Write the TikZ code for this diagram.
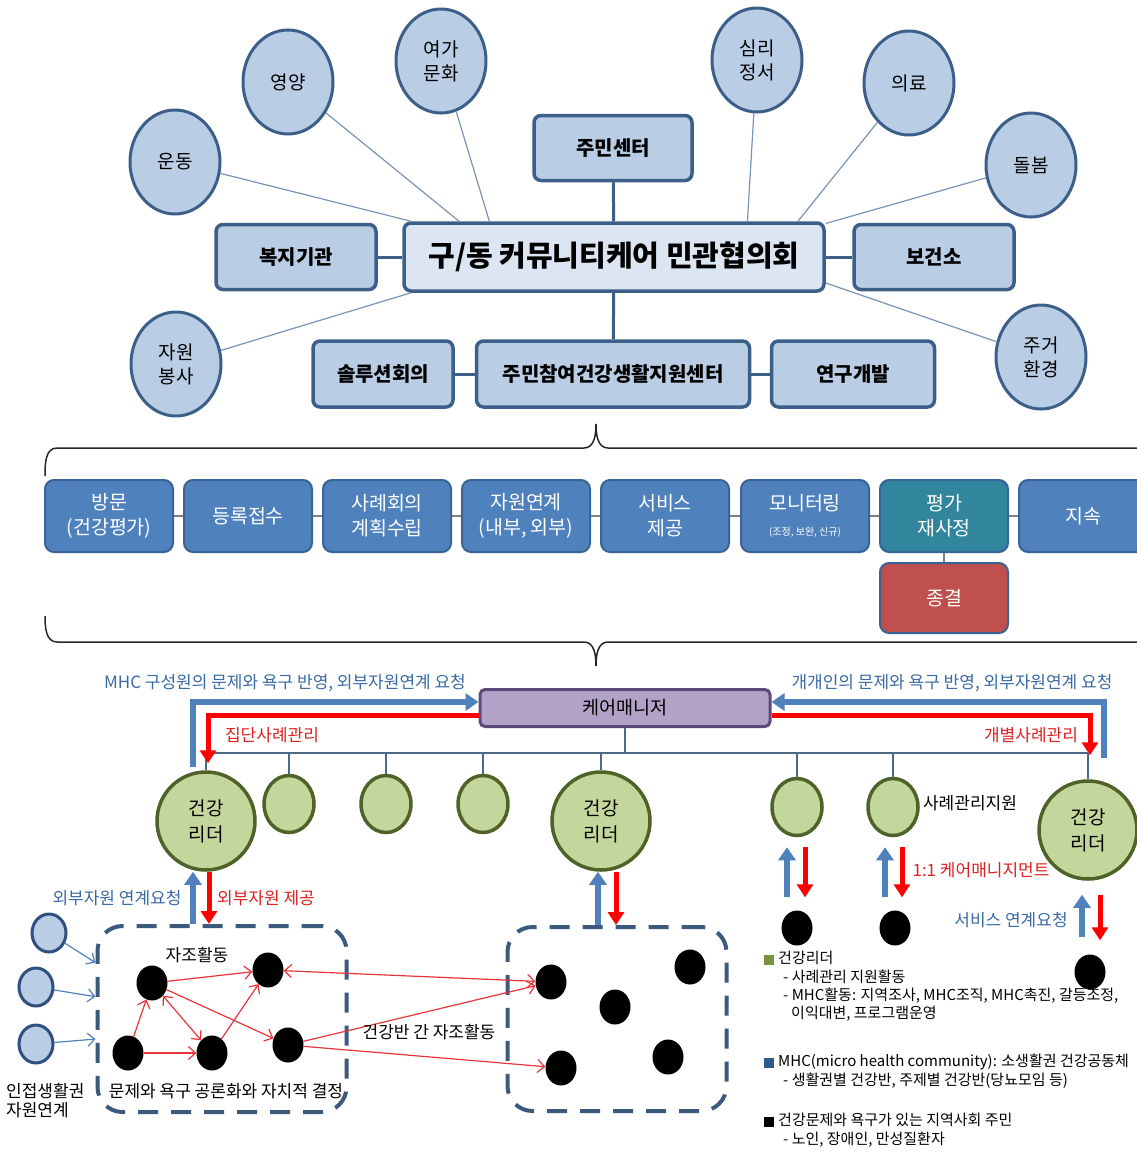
\documentclass[tikz,border=0pt]{standalone}
\usepackage{fontspec}
\setmainfont{Noto Sans CJK KR}
\usetikzlibrary{arrows.meta,shapes.geometric}

\definecolor{topfill}{HTML}{B9CDE5}
\definecolor{mainfill}{HTML}{DCE6F2}
\definecolor{topline}{HTML}{3C5F8A}
\definecolor{spokecol}{HTML}{7A93B5}
\definecolor{procblue}{HTML}{4F81BD}
\definecolor{procline}{HTML}{3A6496}
\definecolor{procteal}{HTML}{31859C}
\definecolor{procred}{HTML}{C0504D}
\definecolor{purplefill}{HTML}{B3A2C7}
\definecolor{purpleline}{HTML}{5F497A}
\definecolor{greenfill}{HTML}{C3D69B}
\definecolor{greenline}{HTML}{4F6228}
\definecolor{arrblue}{HTML}{4F81BD}
\definecolor{arrred}{HTML}{FF0000}
\definecolor{selfred}{HTML}{E8343A}
\definecolor{labblue}{HTML}{3A6AA5}
\definecolor{labred}{HTML}{E02020}
\definecolor{dashcol}{HTML}{3C5A7D}
\definecolor{nbrline}{HTML}{2F4F7F}
\definecolor{busline}{HTML}{4A6A8A}
\definecolor{legGreen}{HTML}{77933C}
\definecolor{legBlue}{HTML}{2E5A8C}

\begin{document}
\begin{tikzpicture}[x=1pt, y=-1pt, font=\fontsize{17}{20}\selectfont,
	>={Straight Barb[length=7pt,width=13pt]},
	topcirc/.style={ellipse, draw=topline, fill=topfill, line width=3pt, minimum width=90pt, minimum height=104pt, inner sep=0pt, align=center, font=\fontsize{19}{24}\selectfont},
	topbox/.style={rectangle, rounded corners=7pt, draw=topline, fill=topfill, line width=3.5pt, font=\bfseries\fontsize{20}{24}\selectfont},
	spoke/.style={draw=spokecol, line width=1.2pt},
	boxlink/.style={draw=topline, line width=3pt},
	stepbox/.style={rectangle, rounded corners=9pt, draw=procline, fill=procblue, line width=2pt, minimum width=128pt, minimum height=72pt, text=white, align=center, font=\fontsize{19.5}{25}\selectfont},
	stepwire/.style={draw=gray, line width=2pt},
	bracemark/.style={draw=black!85, line width=1.5pt},
	manager/.style={rectangle, rounded corners=5pt, draw=purpleline, fill=purplefill, line width=3pt, minimum width=290pt, minimum height=37pt, font=\fontsize{18.5}{22}\selectfont},
	leader/.style={circle, draw=greenline, fill=greenfill, line width=3.5pt, minimum size=98pt, inner sep=0pt, align=center, font=\fontsize{19}{26}\selectfont},
	member/.style={ellipse, draw=greenline, fill=greenfill, line width=3.5pt, minimum width=50pt, minimum height=57pt},
	person/.style={ellipse, fill=black, minimum width=31pt, minimum height=35pt, inner sep=0pt},
	nbr/.style={ellipse, draw=nbrline, fill=topfill, line width=3pt, minimum width=34pt, minimum height=38pt},
	mhcbox/.style={rectangle, rounded corners=25pt, draw=dashcol, line width=4pt, dash pattern=on 20pt off 13pt},
	bus/.style={draw=busline, line width=1.3pt},
	uparr/.style={draw=arrblue, line width=6pt, -{Triangle[width=17pt,length=13pt]}},
	downarr/.style={draw=arrred, line width=5pt, -{Triangle[width=16pt,length=13pt]}},
	selfhelp/.style={draw=selfred, line width=1.2pt},
	nbrarr/.style={draw=arrblue, line width=1.2pt, ->},
	bluetext/.style={text=labblue},
	redtext/.style={text=labred},
	legendsq/.style={rectangle, minimum size=10pt, inner sep=0pt},
	legendtxt/.style={anchor=north west, inner sep=0pt, align=left, font=\fontsize{15}{18.4}\selectfont}]

	\useasboundingbox (0,0) rectangle (1137,1159);

	% 1.협의회와 기관들
	\node[topbox, fill=mainfill, minimum width=420pt, minimum height=68pt, font=\bfseries\fontsize{29}{33}\selectfont] (council) at (614,257) {구/동 커뮤니티케어 민관협의회};
	\node[topbox, minimum width=158pt, minimum height=65pt] (commctr) at (613,148) {주민센터};
	\node[topbox, minimum width=160pt, minimum height=65pt] (welfare) at (296,257) {복지기관};
	\node[topbox, minimum width=160pt, minimum height=65pt] (healthctr) at (934,257) {보건소};
	\node[topbox, minimum width=140pt, minimum height=66pt] (solution) at (383,374) {솔루션회의};
	\node[topbox, minimum width=273pt, minimum height=66pt] (hub) at (613,374) {주민참여건강생활지원센터};
	\node[topbox, minimum width=163pt, minimum height=66pt] (rnd) at (853,374) {연구개발};

	% 2. 영역 (원)
	\node[topcirc] (exercise) at (175,162) {운동};
	\node[topcirc] (nutrition) at (288,82) {영양};
	\node[topcirc] (leisure) at (441,61) {여가\\문화};
	\node[topcirc] (mind) at (757,60) {심리\\정서};
	\node[topcirc] (medical) at (909,83) {의료};
	\node[topcirc] (care) at (1031,165) {돌봄};
	\node[topcirc] (volunteer) at (176,364) {자원\\봉사};
	\node[topcirc] (housing) at (1041,357) {주거\\환경};

	% 3. 연결선
	\draw[boxlink] (welfare) -- (council);
	\draw[boxlink] (council) -- (healthctr);
	\draw[boxlink] (commctr) -- (council);
	\draw[boxlink] (council) -- (hub);
	\draw[boxlink] (solution) -- (hub);
	\draw[boxlink] (hub) -- (rnd);

	\draw[spoke] (exercise) -- (council.170);
	\draw[spoke] (nutrition) -- (council.167);
	\draw[spoke] (leisure) -- (council.164);
	\draw[spoke] (mind) -- (council.15);
	\draw[spoke] (medical) -- (council.11);
	\draw[spoke] (care) -- (council.9);
	\draw[spoke] (volunteer) -- (council.190);
	\draw[spoke] (housing) -- (council.353);

	% 4. 사례관리 과정
	\draw[bracemark] (45,476) to[out=90, in=180] (57,448) -- (584,448)
		to[out=0, in=-90] (596,424) to[out=-90, in=180] (608,448) -- (1150,448);
	\draw[bracemark] (45,616) to[out=-90, in=180] (57,642) -- (584,642)
		to[out=0, in=90] (596,666) to[out=90, in=180] (608,642) -- (1150,642);

	\node[stepbox] (visit) at (109,516) {방문\\(건강평가)};
	\node[stepbox] (intake) at (248,516) {등록접수};
	\node[stepbox] (caseplan) at (387,516) {사례회의\\계획수립};
	\node[stepbox] (linkage) at (526,516) {자원연계\\(내부, 외부)};
	\node[stepbox] (service) at (665,516) {서비스\\제공};
	\node[stepbox] (monitor) at (805,516) {모니터링\\{\fontsize{10}{12}\selectfont (조정, 보완, 신규)}};
	\node[stepbox, fill=procteal] (review) at (944,516) {평가\\재사정};
	\node[stepbox] (sustain) at (1083,516) {지속};
	\node[stepbox, fill=procred, minimum height=70pt] (closure) at (944,598) {종결};

	\draw[stepwire] (visit) -- (intake) -- (caseplan) -- (linkage) -- (service) -- (monitor) -- (review) -- (sustain);
	\draw[stepwire] (review) -- (closure);

	% 5. 케어매니저와 건강리더
	\node[manager] (cm) at (625,708) {케어매니저};

	\node[leader] (leaderA) at (206,821) {건강\\리더};
	\node[member] (memA) at (289,804) {};
	\node[member] (memB) at (386,804) {};
	\node[member] (memC) at (483,804) {};
	\node[leader] (leaderB) at (601,821) {건강\\리더};
	\node[member] (memD) at (797,807) {};
	\node[member] (memE) at (893,807) {};
	\node[leader] (leaderC) at (1088,830) {건강\\리더};

	\coordinate (busL) at (208,753);
	\coordinate (busR) at (1088,753);
	\draw[bus] (busL) -- (busR);
	\draw[bus] (cm) -- (cm |- busL);
	\draw[bus] (leaderA) -- (leaderA |- busL);
	\draw[bus] (memA) -- (memA |- busL);
	\draw[bus] (memB) -- (memB |- busL);
	\draw[bus] (memC) -- (memC |- busL);
	\draw[bus] (leaderB) -- (leaderB |- busL);
	\draw[bus] (memD) -- (memD |- busL);
	\draw[bus] (memE) -- (memE |- busL);
	\draw[bus] (leaderC) -- (leaderC |- busL);

	\draw[uparr] ([xshift=-13pt, yshift=3pt]leaderA.north) |- ([yshift=6pt]cm.west);
	\draw[downarr] ([yshift=-7pt]cm.west) -| ([xshift=2pt, yshift=7pt]leaderA.north);
	\draw[uparr] ([xshift=16pt, yshift=21pt]leaderC.north) |- ([yshift=6pt]cm.east);
	\draw[downarr] ([yshift=-7pt]cm.east) -| ([xshift=2pt, yshift=24pt]leaderC.north);

	\node[bluetext] (lblGroupReq) at (285,683) {MHC 구성원의 문제와 욕구 반영, 외부자원연계 요청};
	\node[redtext] (lblGroupCase) at (272,735) {집단사례관리};
	\node[bluetext] (lblIndReq) at (952,683) {개개인의 문제와 욕구 반영, 외부자원연계 요청};
	\node[redtext] (lblIndCase) at (1031,735) {개별사례관리};
	\node (lblSupport) at (970,803) {사례관리지원};

	% 6. 건강반 (MHC)
	\node[mhcbox, minimum width=249pt, minimum height=186pt] (mhcA) at (222,1019) {};
	\node[mhcbox, minimum width=219pt, minimum height=184pt] (mhcB) at (617,1019) {};

	\node[person] (a1) at (152,983) {};
	\node[person] (a2) at (268,970) {};
	\node[person] (a3) at (128,1053) {};
	\node[person] (a4) at (212,1053) {};
	\node[person] (a5) at (288,1045) {};
	\node[person] (b1) at (551,982) {};
	\node[person] (b2) at (690,967) {};
	\node[person] (b3) at (615,1007) {};
	\node[person] (b4) at (561,1068) {};
	\node[person] (b5) at (668,1057) {};
	\node[person] (c1) at (797,928) {};
	\node[person] (c2) at (895,928) {};
	\node[person] (c3) at (1090,972) {};

	\draw[uparr] ([xshift=-13pt]leaderA.south |- mhcA.north) -- ([xshift=-13pt]leaderA.south);
	\draw[downarr] ([xshift=3pt]leaderA.south) -- ([xshift=3pt]leaderA.south |- mhcA.north);
	\draw[uparr] ([xshift=-3pt]leaderB.south |- mhcB.north) -- ([xshift=-3pt]leaderB.south);
	\draw[downarr] ([xshift=15pt]leaderB.south) -- ([xshift=15pt]leaderB.south |- mhcB.north);
	\draw[uparr, shorten <=13pt, shorten >=10pt] ([xshift=-10pt]c1.north) -- ([xshift=-10pt]c1.north |- memD.south);
	\draw[downarr, shorten <=10pt, shorten >=13pt] ([xshift=8pt]memD.south) -- ([xshift=8pt]memD.south |- c1.north);
	\draw[uparr, shorten <=13pt, shorten >=10pt] ([xshift=-10pt]c2.north) -- ([xshift=-10pt]c2.north |- memE.south);
	\draw[downarr, shorten <=10pt, shorten >=13pt] ([xshift=9pt]memE.south) -- ([xshift=9pt]memE.south |- c2.north);
	\draw[uparr, shorten <=17pt, shorten >=14pt] ([xshift=-8pt]c3.north) -- ([xshift=-8pt]c3.north |- leaderC.south);
	\draw[downarr, shorten <=14pt, shorten >=14pt] ([xshift=12pt]leaderC.south) -- ([xshift=12pt]leaderC.south |- c3.north);

	\node[bluetext] (lblExtReq) at (117,898) {외부자원 연계요청};
	\node[redtext] (lblExtGive) at (266,898) {외부자원 제공};
	\node[redtext] (lblOneOne) at (981,870) {1:1 케어매니지먼트};
	\node[bluetext] (lblService) at (1011,920) {서비스 연계요청};

	% 자조활동
	\draw[selfhelp, ->] (a1) -- (a2);
	\draw[selfhelp, ->] (a1) -- (a5);
	\draw[selfhelp, ->] (a3) -- (a1);
	\draw[selfhelp, <->] (a4) -- (a1);
	\draw[selfhelp, ->] (a3) -- (a4);
	\draw[selfhelp, ->] (a4) -- (a2);
	\draw[selfhelp, <->] (a2) -- (b1);
	\draw[selfhelp, ->] (a5) -- (b1);
	\draw[selfhelp, ->] (a5) -- (b4);

	\node (lblSelf) at (197,955) {자조활동};
	\node (lblInter) at (429,1032) {건강반 간 자조활동};
	\node (lblDecide) at (226,1091) {문제와 욕구 공론화와 자치적 결정};

	% 인접생활권
	\node[nbr] (n1) at (49,933) {};
	\node[nbr] (n2) at (36,987) {};
	\node[nbr] (n3) at (36,1044) {};
	\draw[nbrarr] (n1) -- (mhcA.156);
	\draw[nbrarr] (n2) -- (mhcA.170);
	\draw[nbrarr] (n3) -- (mhcA.189);
	\node[anchor=west, align=left, inner sep=0pt, font=\fontsize{17}{19}\selectfont] (lblNear) at (6,1101) {인접생활권\\자원연계};

	% 7. 범례
	\node[legendsq, fill=legGreen] (sqLeader) at (769,960) {};
	\node[legendtxt] (txtLeader) at (778,951) {건강리더\\\hspace*{5pt}- 사례관리 지원활동\\\hspace*{5pt}- MHC활동: 지역조사, MHC조직, MHC촉진, 갈등조정,\\\hspace*{13pt}이익대변, 프로그램운영};
	\node[legendsq, fill=legBlue] (sqMhc) at (769,1063) {};
	\node[legendtxt] (txtMhc) at (778,1054) {MHC(micro health community): 소생활권 건강공동체\\\hspace*{5pt}- 생활권별 건강반, 주제별 건강반(당뇨모임 등)};
	\node[legendsq, fill=black] (sqPeople) at (769,1122) {};
	\node[legendtxt] (txtPeople) at (778,1113) {건강문제와 욕구가 있는 지역사회 주민\\\hspace*{5pt}- 노인, 장애인, 만성질환자};

\end{tikzpicture}
\end{document}
